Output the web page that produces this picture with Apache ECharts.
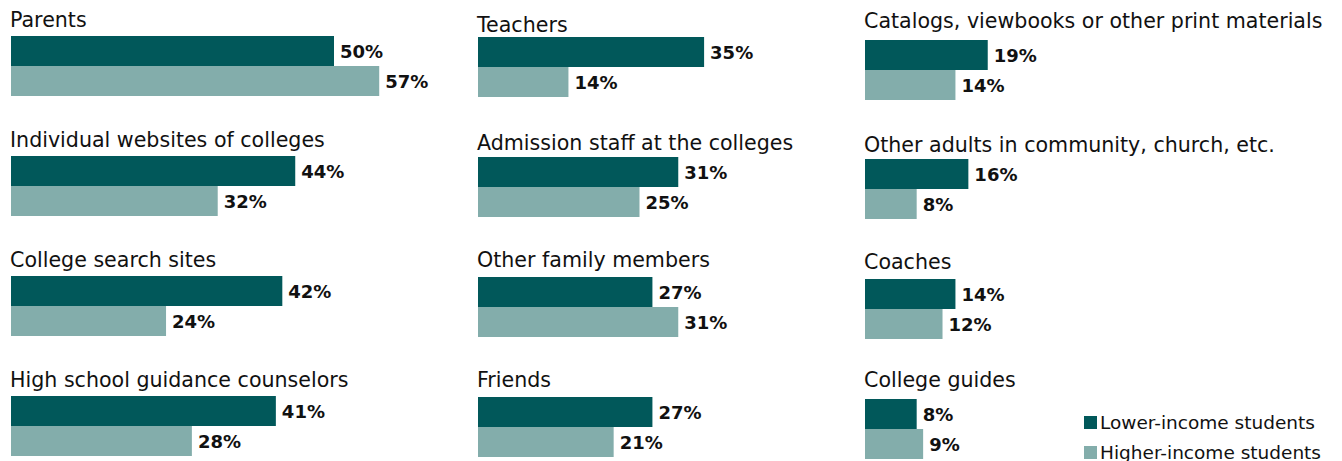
<!DOCTYPE html>
<html>
<head>
<meta charset="utf-8">
<script src="https://cdn.jsdelivr.net/npm/echarts@6/dist/echarts.min.js"></script>
<style>
html,body{margin:0;padding:0;background:#fff;}
#chart{width:1342px;height:461px;}
</style>
</head>
<body>
<div id="chart"></div>
<script>
// ---- data ----
const categories = [
  'Parents', 'Individual websites of colleges', 'College search sites', 'High school guidance counselors',
  'Teachers', 'Admission staff at the colleges', 'Other family members', 'Friends',
  'Catalogs, viewbooks or other print materials', 'Other adults in community, church, etc.', 'Coaches', 'College guides'
];
const lowerIncome  = [50, 44, 42, 41, 35, 31, 27, 27, 19, 16, 14, 8];
const higherIncome = [57, 32, 24, 28, 14, 25, 31, 21, 14, 8, 12, 9];
const seriesNames = ['Lower-income students', 'Higher-income students'];

// ---- layout (positions, not data) ----
const colLefts = [11, 478, 865];
const rowTops = [[36, 156, 276, 396], [37, 157, 277, 397], [40, 159, 279, 399]];
const titleBaselines = [[26.7, 146.7, 266.7, 386.7], [31.7, 150, 266.7, 386.7], [28.3, 151.7, 269.3, 387.3]];
const legendTops = [413, 443];
const pxPerPct = 6.46;
const axisMax = 60;

const DARK = '#01585a';
const LIGHT = '#83adab';
const FONT = 'DejaVu Sans';

const grids = [], xAxes = [], yAxes = [], series = [], titles = [];
categories.forEach((name, i) => {
  const col = Math.floor(i / 4), row = i % 4;
  grids.push({ left: colLefts[col], top: rowTops[col][row], width: pxPerPct * axisMax, height: 60, containLabel: false });
  xAxes.push({ gridIndex: i, type: 'value', min: 0, max: axisMax, show: false });
  yAxes.push({ gridIndex: i, type: 'category', data: [name], inverse: true, show: false });
  titles.push({
    text: name, left: colLefts[col] - 1, top: titleBaselines[col][row] - 17.5, padding: 0,
    textStyle: { fontFamily: FONT, fontSize: 20.6, fontWeight: 'normal', color: '#111' }
  });
  [lowerIncome, higherIncome].forEach((arr, s) => {
    series.push({
      type: 'bar', name: seriesNames[s], xAxisIndex: i, yAxisIndex: i,
      data: [arr[i]], barWidth: 30, barGap: '0%',
      itemStyle: { color: s === 0 ? DARK : LIGHT },
      label: {
        show: true, position: 'right', distance: 6, formatter: '{c}%',
        fontFamily: FONT, fontSize: 18, fontWeight: 'bold', color: '#111'
      }
    });
  });
});

const legends = seriesNames.map((n, k) => ({
  data: [n], orient: 'vertical', left: 1084, top: legendTops[k],
  icon: 'rect', itemWidth: 13, itemHeight: 13, padding: 0,
  selectedMode: false,
  textStyle: { fontFamily: FONT, fontSize: 18.5, color: '#111', padding: [0, 0, 0, -2] }
}));

const chart = echarts.init(document.getElementById('chart'), null, { renderer: 'svg' });
chart.setOption({
  animation: false,
  backgroundColor: '#fff',
  title: titles,
  grid: grids,
  xAxis: xAxes,
  yAxis: yAxes,
  legend: legends,
  tooltip: { show: false },
  series: series
});
</script>
</body>
</html>
